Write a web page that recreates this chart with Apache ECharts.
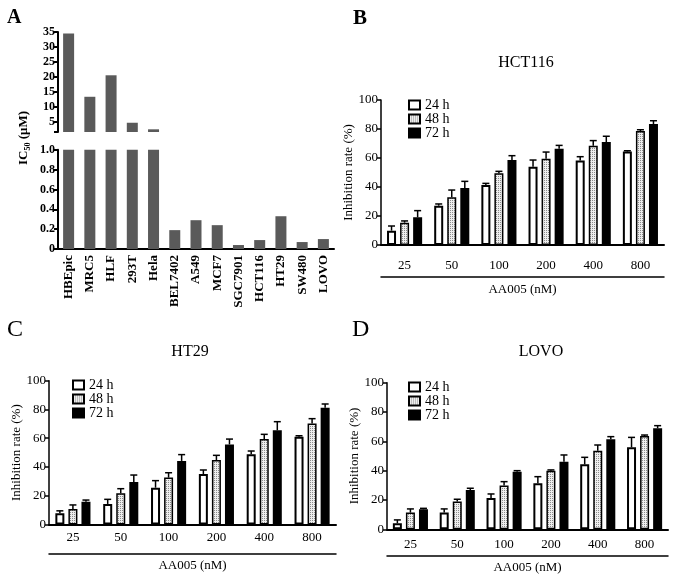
<!DOCTYPE html>
<html><head><meta charset="utf-8">
<script src="https://cdn.jsdelivr.net/npm/echarts@6/dist/echarts.min.js"></script>
<style>html,body{margin:0;padding:0;background:#fff}#c{width:675px;height:578px}</style>
</head><body><div id="c"></div>
<script>
// ---------- data ----------
var cellLines = ['HBEpic','MRC5','HLF','293T','Hela','BEL7402','A549','MCF7','SGC7901','HCT116','HT29','SW480','LOVO'];
var ic50 = [34.5, 13.3, 20.5, 4.6, 2.4, 0.19, 0.29, 0.24, 0.04, 0.09, 0.33, 0.07, 0.10];
var upperTickValues = [5, 10, 15, 20, 25, 30, 35];

var doses = ['25','50','100','200','400','800'];
var times = ['24 h','48 h','72 h'];

var hct116_24 = [9.9, 27.1, 41.4, 54.0, 58.2, 64.4];
var hct116_48 = [15.4, 32.9, 49.4, 59.5, 68.5, 78.6];
var hct116_72 = [19.1, 39.3, 58.6, 66.4, 71.0, 83.4];
var hct116_24_sd = [3.2, 1.2, 1.1, 4.6, 2.7, 0.6];
var hct116_48_sd = [1.2, 5.0, 1.4, 4.6, 3.5, 0.9];
var hct116_72_sd = [4.6, 4.6, 3.0, 2.3, 4.0, 2.3];

var ht29_24 = [7.8, 14.3, 25.6, 35.1, 48.8, 61.0];
var ht29_48 = [10.8, 21.7, 32.6, 44.8, 59.4, 70.3];
var ht29_72 = [15.9, 29.5, 44.2, 55.7, 65.5, 81.2];
var ht29_24_sd = [1.7, 3.2, 4.9, 2.8, 2.3, 0.7];
var ht29_48_sd = [2.8, 3.2, 3.4, 3.3, 3.3, 3.3];
var ht29_72_sd = [1.1, 4.9, 4.4, 3.7, 6.0, 2.6];

var lovo_24 = [4.1, 11.4, 21.4, 31.4, 44.3, 55.9];
var lovo_48 = [11.4, 18.9, 29.8, 40.0, 53.6, 63.6];
var lovo_72 = [13.6, 26.8, 39.3, 46.1, 61.4, 68.9];
var lovo_24_sd = [2.3, 2.5, 2.7, 4.5, 4.8, 6.8];
var lovo_48_sd = [2.5, 1.6, 2.7, 0.5, 3.9, 0.7];
var lovo_72_sd = [0.7, 1.2, 0.7, 4.6, 1.8, 1.8];

// ---------- styles ----------
var SERIF = '"Liberation Serif", "Times New Roman", serif';
var pc = document.createElement('canvas');
pc.width = 2; pc.height = 2;
var g = pc.getContext('2d');
g.fillStyle = '#eeeeee'; g.fillRect(0, 0, 2, 2);
g.fillStyle = '#8c8c8c'; g.fillRect(0, 0, 1, 1);

var BAR_W = 9, BAR_GAP = 0.45;
var SP = BAR_W * (1 + BAR_GAP);
var barStyles = [
  {color: '#ffffff', borderColor: '#000', borderWidth: 2},
  {color: {image: pc, repeat: 'repeat'}, borderColor: '#000', borderWidth: 1.5},
  {color: '#000000', borderColor: '#000', borderWidth: 2}
];

var chart = echarts.init(document.getElementById('c'), null, {renderer: 'canvas'});

var grids = [
  {left: 58, top: 32, width: 276, height: 100},
  {left: 58, top: 149.7, width: 276, height: 99.3},
  {left: 381, top: 100, width: 283, height: 145},
  {left: 49, top: 380.7, width: 287, height: 143.8},
  {left: 387, top: 382.7, width: 281, height: 146.6}
];

var xAxes = [], yAxes = [], series = [];

// Panel A
xAxes.push({type: 'category', gridIndex: 0, data: cellLines, show: false});
xAxes.push({type: 'category', gridIndex: 1, data: cellLines,
  axisLine: {lineStyle: {color: '#000', width: 2}},
  axisTick: {alignWithLabel: true, length: 4, lineStyle: {color: '#000', width: 1.5}},
  axisLabel: {rotate: 90, margin: 6, color: '#000', fontFamily: SERIF, fontWeight: 'bold', fontSize: 13}
});
yAxes.push({type: 'value', gridIndex: 0, min: 1.5, max: 35,
  splitLine: {show: false},
  axisLine: {show: true, lineStyle: {color: '#000', width: 2}},
  axisTick: {show: true, length: 4, customValues: [1.5].concat(upperTickValues), lineStyle: {color: '#000', width: 2}},
  axisLabel: {customValues: upperTickValues, margin: 3, color: '#000', fontFamily: SERIF, fontWeight: 'bold', fontSize: 12}
});
yAxes.push({type: 'value', gridIndex: 1, min: 0, max: 1, interval: 0.2,
  splitLine: {show: false},
  axisLine: {show: true, lineStyle: {color: '#000', width: 2}},
  axisTick: {show: true, length: 4, lineStyle: {color: '#000', width: 2}},
  axisLabel: {margin: 3, color: '#000', fontFamily: SERIF, fontWeight: 'bold', fontSize: 12,
    formatter: function (v) { return v === 0 ? '0' : v.toFixed(1); }}
});
series.push({type: 'bar', xAxisIndex: 0, yAxisIndex: 0, data: ic50, barWidth: 11, clip: true,
  itemStyle: {color: '#5a5a5a'}, silent: true});
series.push({type: 'bar', xAxisIndex: 1, yAxisIndex: 1, data: ic50, barWidth: 11, clip: true,
  itemStyle: {color: '#5a5a5a'}, silent: true});

// Panels B, C, D
function addPanel(gi, means, sds, labelMargin, lineOffset, nameGapY) {
  var xi = xAxes.length;
  xAxes.push({type: 'category', gridIndex: gi, data: doses,
    axisLine: {lineStyle: {color: '#000', width: 2}},
    axisTick: {alignWithLabel: true, length: 3, lineStyle: {color: '#000', width: 1.5}},
    axisLabel: {margin: labelMargin, color: '#000', fontFamily: SERIF, fontSize: 13}
  });
  xAxes.push({type: 'category', gridIndex: gi, data: doses, position: 'bottom', offset: lineOffset,
    axisLine: {lineStyle: {color: '#000', width: 1.5}},
    axisTick: {show: false}, axisLabel: {show: false},
    name: 'AA005 (nM)', nameLocation: 'middle', nameGap: 6,
    nameTextStyle: {color: '#000', fontFamily: SERIF, fontSize: 13}
  });
  var yi = yAxes.length;
  yAxes.push({type: 'value', gridIndex: gi, min: 0, max: 100, interval: 20,
    splitLine: {show: false},
    axisLine: {show: true, lineStyle: {color: '#000', width: 1.5}},
    axisTick: {show: true, length: 4, lineStyle: {color: '#000', width: 1.5}},
    axisLabel: {margin: 3, color: '#000', fontFamily: SERIF, fontSize: 13},
    name: 'Inhibition rate (%)', nameLocation: 'middle', nameGap: nameGapY,
    nameTextStyle: {color: '#000', fontFamily: SERIF, fontSize: 13}
  });
  for (var i = 0; i < 3; i++) {
    series.push({type: 'bar', name: times[i], xAxisIndex: xi, yAxisIndex: yi, data: means[i],
      barWidth: BAR_W, barGap: (BAR_GAP * 100) + '%', itemStyle: barStyles[i], silent: true});
  }
  for (var k = 0; k < 3; k++) {
    (function (k) {
      series.push({type: 'custom', xAxisIndex: xi, yAxisIndex: yi, silent: true, z: 3,
        data: means[k].map(function (m, j) { return [j, m, m + sds[k][j]]; }),
        renderItem: function (params, api) {
          var p0 = api.coord([api.value(0), api.value(1)]);
          var p1 = api.coord([api.value(0), api.value(2)]);
          var x = p0[0] + (k - 1) * SP;
          var st = {stroke: '#000', lineWidth: 1.5};
          return {type: 'group', children: [
            {type: 'line', shape: {x1: x, y1: p0[1], x2: x, y2: p1[1]}, style: st},
            {type: 'line', shape: {x1: x - 3.5, y1: p1[1], x2: x + 3.5, y2: p1[1]}, style: st}
          ]};
        }
      });
    })(k);
  }
}
addPanel(2, [hct116_24, hct116_48, hct116_72], [hct116_24_sd, hct116_48_sd, hct116_72_sd], 14, 32, 17);
addPanel(3, [ht29_24, ht29_48, ht29_72], [ht29_24_sd, ht29_48_sd, ht29_72_sd], 7, 29, 19);
addPanel(4, [lovo_24, lovo_48, lovo_72], [lovo_24_sd, lovo_48_sd, lovo_72_sd], 9, 26, 20);

function legendAt(left, top) {
  return {data: times, left: left, top: top, orient: 'vertical', selectedMode: false,
    itemWidth: 11, itemHeight: 9, itemGap: 0, icon: 'rect',
    textStyle: {color: '#000', fontFamily: SERIF, fontSize: 14, lineHeight: 13}};
}

var titleStyle = {color: '#000', fontFamily: SERIF, fontSize: 16, fontWeight: 'normal'};
var option = {
  animation: false,
  backgroundColor: '#fff',
  title: [
    {text: 'A', left: 2, top: 3, textStyle: {color: '#000', fontFamily: SERIF, fontSize: 20, fontWeight: 'bold'}},
    {text: 'B', left: 348, top: 3, textStyle: {color: '#000', fontFamily: SERIF, fontSize: 21, fontWeight: 'bold'}},
    {text: 'C', left: 2, top: 313, textStyle: {color: '#000', fontFamily: SERIF, fontSize: 24, fontWeight: 'normal'}},
    {text: 'D', left: 347, top: 313, textStyle: {color: '#000', fontFamily: SERIF, fontSize: 24, fontWeight: 'normal'}},
    {text: 'HCT116', left: 521, top: 50, textAlign: 'center', textStyle: titleStyle},
    {text: 'HT29', left: 185, top: 339, textAlign: 'center', textStyle: titleStyle},
    {text: 'LOVO', left: 536, top: 339, textAlign: 'center', textStyle: titleStyle}
  ],
  legend: [legendAt(403, 93), legendAt(67, 373), legendAt(403, 375)],
  grid: grids,
  xAxis: xAxes,
  yAxis: yAxes,
  series: series,
  graphic: [{
    type: 'text', x: 24, y: 138, rotation: Math.PI / 2,
    style: {
      text: 'IC{sub|50} (μM)',
      fill: '#000', font: 'bold 13px ' + SERIF, align: 'center', verticalAlign: 'middle',
      rich: {sub: {fontSize: 8, fontWeight: 'bold', fontFamily: SERIF, padding: [7, 0, 0, 0]}}
    }
  }]
};
chart.setOption(option);
</script>
</body></html>
